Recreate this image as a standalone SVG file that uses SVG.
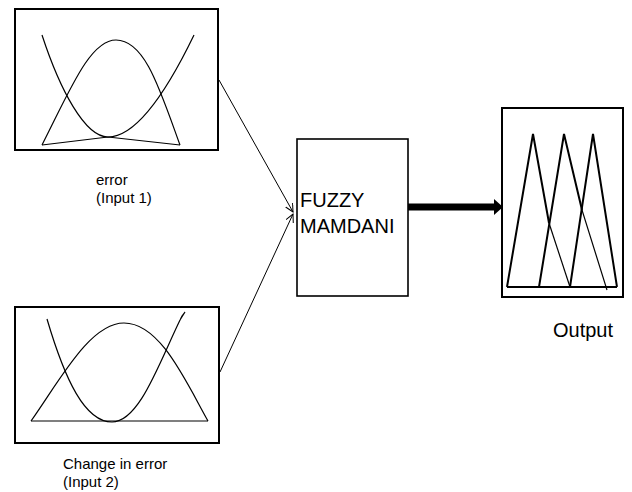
<svg xmlns="http://www.w3.org/2000/svg" width="632" height="492" viewBox="0 0 632 492">
  <style>
    .box { fill: #fff; stroke: #000; stroke-width: 2; }
    .curve { fill: none; stroke: #000; stroke-width: 1.2; }
    .tri { fill: none; stroke: #000; stroke-width: 2; stroke-linejoin: miter; }
    .thin { fill: none; stroke: #000; stroke-width: 1.2; }
    .lbl { font-family: "Liberation Sans", Arial, sans-serif; fill: #000; }
    .conn { fill: none; stroke: #000; stroke-width: 1; }
  </style>
  <defs>
    <marker id="openArrow" markerWidth="10" markerHeight="10" refX="8" refY="4" orient="auto" markerUnits="userSpaceOnUse">
      <path d="M0,0 L8,4 L0,8" fill="none" stroke="#000" stroke-width="1"/>
    </marker>
  </defs>
  <rect width="632" height="492" fill="#fff"/>

  <g id="input1">
    <rect class="box" x="15" y="9" width="203" height="141"/>
    <path class="curve" d="M42,35 C60,90 85,137 108,137 C135,137 165,95 194,35"/>
    <path class="curve" d="M42,145 C70,90 90,40 116,40 C145,40 160,90 180,145"/>
    <path class="curve" d="M42,145 L108,137 L180,145"/>
    <text class="lbl" x="96" y="185" font-size="15">error</text>
    <text class="lbl" x="96" y="203" font-size="15">(Input 1)</text>
  </g>

  <g id="input2">
    <rect class="box" x="15" y="307" width="204" height="136"/>
    <path class="curve" d="M31,421 C60,380 90,323 124,323 C160,323 185,380 208,421"/>
    <path class="curve" d="M47,319 C65,380 85,422 112,422 C140,422 160,360 182,316 L185,312 L180,320"/>
    <path class="curve" d="M31,421 L208,421"/>
    <text class="lbl" x="63" y="469" font-size="15">Change in error</text>
    <text class="lbl" x="63" y="487" font-size="15">(Input 2)</text>
  </g>

  <g id="fuzzy">
    <rect class="box" x="297" y="139" width="111" height="157" style="stroke-width:1.6"/>
    <text class="lbl" x="300" y="207" font-size="20">FUZZY</text>
    <text class="lbl" x="300" y="233" font-size="20">MAMDANI</text>
  </g>

  <g id="output">
    <rect class="box" x="502" y="108" width="121" height="189"/>
    <path class="tri" d="M507,287 L533,134 L549,223"/>
    <path class="thin" d="M549,223 L570,287"/>
    <path class="tri" d="M539,287 L564,134 L582,210"/>
    <path class="thin" d="M582,210 L607,290"/>
    <path class="tri" d="M570,287 L593,134 L617,287"/>
    <path class="tri" d="M507,287 L617,287"/>
    <text class="lbl" x="553" y="337" font-size="20">Output</text>
  </g>

  <g id="connectors">
    <path class="conn" d="M219,80 L293,212" marker-end="url(#openArrow)"/>
    <path class="conn" d="M220,372 L293,214" marker-end="url(#openArrow)"/>
    <line x1="408" y1="207" x2="496" y2="207" stroke="#000" stroke-width="7"/>
    <polygon points="494,199 503,207 494,215" fill="#000"/>
  </g>
</svg>
